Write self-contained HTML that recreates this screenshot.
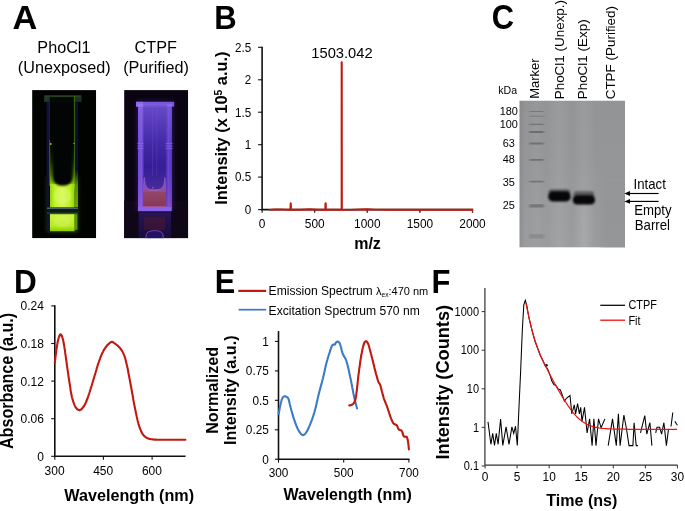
<!DOCTYPE html><html><head><meta charset="utf-8"><title>Figure</title>
<style>html,body{margin:0;padding:0;background:#fff}svg{display:block;will-change:transform}text{font-family:"Liberation Sans",Arial,sans-serif;fill:#000}.b{font-weight:bold;fill:#000}.pl{font-weight:bold;font-size:33px;fill:#000}.ax{stroke:#111;stroke-width:1.6;fill:none}.tk{stroke:#111;stroke-width:1.1;fill:none}</style></head><body>
<svg width="685" height="511" viewBox="0 0 685 511">
<defs>
<filter color-interpolation-filters="sRGB" id="bl1" x="-5%" y="-5%" width="110%" height="110%"><feGaussianBlur color-interpolation-filters="sRGB" stdDeviation="0.55"/></filter>
<filter color-interpolation-filters="sRGB" id="bl2" x="-10%" y="-10%" width="120%" height="120%"><feGaussianBlur color-interpolation-filters="sRGB" stdDeviation="1.1"/></filter>
<filter color-interpolation-filters="sRGB" id="bl3" x="-20%" y="-20%" width="140%" height="140%"><feGaussianBlur color-interpolation-filters="sRGB" stdDeviation="2.2"/></filter>
<filter color-interpolation-filters="sRGB" id="blb" x="-20%" y="-40%" width="140%" height="180%"><feGaussianBlur color-interpolation-filters="sRGB" stdDeviation="1.0 0.9"/></filter>
<filter color-interpolation-filters="sRGB" id="blm" x="-20%" y="-60%" width="140%" height="220%"><feGaussianBlur color-interpolation-filters="sRGB" stdDeviation="0.9 0.55"/></filter>
<clipPath id="cpA"><rect x="32.1" y="90.1" width="64.1" height="148.2"/></clipPath>
<clipPath id="cpB"><rect x="124.1" y="90.1" width="64.1" height="148.2"/></clipPath>
<clipPath id="cpG"><rect x="519.3" y="100.5" width="105.7" height="147.1"/></clipPath>
<linearGradient id="gGreen" x1="0" x2="1" y1="0" y2="0">
 <stop offset="0" stop-color="#9ad800"/><stop offset="0.2" stop-color="#c2f22c"/><stop offset="0.5" stop-color="#d4f84e"/><stop offset="0.8" stop-color="#bef026"/><stop offset="1" stop-color="#94d400"/>
</linearGradient>
<linearGradient id="gGreenUp" x1="0" x2="0" y1="0" y2="1">
 <stop offset="0" stop-color="#4a8a00" stop-opacity="0"/><stop offset="0.35" stop-color="#5a9a00" stop-opacity="0.22"/><stop offset="0.7" stop-color="#74b400" stop-opacity="0.6"/><stop offset="1" stop-color="#a4e010" stop-opacity="1"/>
</linearGradient>
<linearGradient id="gGreenRef" x1="0" x2="0" y1="0" y2="1">
 <stop offset="0" stop-color="#ccf642"/><stop offset="0.7" stop-color="#b4ea20"/><stop offset="1" stop-color="#90cc00"/>
</linearGradient>
<linearGradient id="gGreenSide" x1="0" x2="0" y1="0" y2="1"><stop offset="0" stop-color="#5a9a00" stop-opacity="0"/><stop offset="0.4" stop-color="#5a9a00" stop-opacity="0.9"/><stop offset="1" stop-color="#6aa800"/></linearGradient>
<linearGradient id="gUside" x1="0" x2="0" y1="0" y2="1"><stop offset="0" stop-color="#5a3cc0"/><stop offset="0.6" stop-color="#8050c0"/><stop offset="1" stop-color="#9a4c80"/></linearGradient>
<linearGradient id="gPurTop" x1="0" x2="0" y1="0" y2="1"><stop offset="0" stop-color="#a88cf8" stop-opacity="0.32"/><stop offset="0.35" stop-color="#a88cf8" stop-opacity="0.08"/><stop offset="0.6" stop-color="#c070d0" stop-opacity="0"/><stop offset="0.85" stop-color="#d070c8" stop-opacity="0.16"/><stop offset="1" stop-color="#e078c0" stop-opacity="0.26"/></linearGradient>
<linearGradient id="gUin" x1="0" x2="0" y1="0" y2="1"><stop offset="0" stop-color="#3a2298"/><stop offset="1" stop-color="#4a2c9c"/></linearGradient>
<linearGradient id="gPurIn" x1="0" x2="0" y1="0" y2="1"><stop offset="0" stop-color="#472cb0"/><stop offset="0.5" stop-color="#3a229e"/><stop offset="1" stop-color="#2e1a8c"/></linearGradient>
<linearGradient id="gRedLiq" x1="0" x2="0" y1="0" y2="1"><stop offset="0" stop-color="#9a4a6c"/><stop offset="1" stop-color="#843a58"/></linearGradient>
<linearGradient id="gPurBody" x1="0" x2="1" y1="0" y2="0">
 <stop offset="0" stop-color="#6a48d6"/><stop offset="0.1" stop-color="#7854e0"/><stop offset="0.2" stop-color="#4228a8"/><stop offset="0.5" stop-color="#36209a"/><stop offset="0.8" stop-color="#3e26a4"/><stop offset="0.9" stop-color="#6642d0"/><stop offset="1" stop-color="#5030bc"/>
</linearGradient>
<linearGradient id="gPurRef" x1="0" x2="0" y1="0" y2="1">
 <stop offset="0" stop-color="#4a28b0"/><stop offset="1" stop-color="#2a1470"/>
</linearGradient>
<linearGradient id="gLane" x1="0" x2="1" y1="0" y2="0">
 <stop offset="0" stop-color="#fff" stop-opacity="0"/><stop offset="0.5" stop-color="#fff" stop-opacity="0.07"/><stop offset="1" stop-color="#fff" stop-opacity="0"/>
</linearGradient>
<linearGradient id="gGelL" x1="0" x2="1" y1="0" y2="0"><stop offset="0" stop-color="#000" stop-opacity="0.08"/><stop offset="1" stop-color="#000" stop-opacity="0"/></linearGradient>
<linearGradient id="gGelR" x1="0" x2="0" y1="0" y2="1"><stop offset="0" stop-color="#939496" stop-opacity="0"/><stop offset="0.4" stop-color="#939496" stop-opacity="0"/><stop offset="0.7" stop-color="#949597" stop-opacity="1"/><stop offset="1" stop-color="#959698" stop-opacity="1"/></linearGradient>
<linearGradient id="gGelRm" x1="0" x2="1" y1="0" y2="0"><stop offset="0" stop-color="#fff" stop-opacity="0"/><stop offset="0.35" stop-color="#fff" stop-opacity="1"/><stop offset="1" stop-color="#fff" stop-opacity="1"/></linearGradient>
<mask id="mGelR"><rect x="596" y="100" width="30" height="148" fill="url(#gGelRm)"/></mask>
<linearGradient id="gGelV" x1="0" x2="0" y1="0" y2="1">
 <stop offset="0" stop-color="#939496"/><stop offset="0.4" stop-color="#959698"/><stop offset="0.7" stop-color="#999a9c"/><stop offset="1" stop-color="#9b9c9e"/>
</linearGradient>
</defs>
<rect width="685" height="511" fill="#fff"/>
<text class="pl" transform="translate(12.5 29.0) scale(1.04 1.022)">A</text>
<text class="pl" transform="translate(214.15 28.7) scale(0.94 1.025)">B</text>
<text class="pl" transform="translate(491.85 28.6) scale(0.934 1.04)">C</text>
<text class="pl" transform="translate(13.95 293) scale(0.955 1.03)">D</text>
<text class="pl" transform="translate(214.65 292.6) scale(0.932 1.032)">E</text>
<text class="pl" transform="translate(431.45 292.6) scale(0.9375 1.032)">F</text>
<text font-size="16.2px" text-anchor="middle" transform="translate(63.9 52.6) scale(1.0 1.03)">PhoCl1</text>
<text font-size="16.2px" text-anchor="middle" transform="translate(64.2 72.8) scale(1.0 1.03)">(Unexposed)</text>
<text font-size="16.2px" text-anchor="middle" transform="translate(155.7 52.6) scale(1.0 1.03)">CTPF</text>
<text font-size="16.2px" text-anchor="middle" transform="translate(156 72.8) scale(1.0 1.03)">(Purified)</text>

<g clip-path="url(#cpA)">
 <rect x="32.1" y="90.1" width="64.1" height="148.2" fill="#010301"/>
 <rect x="47" y="176" width="31" height="56" fill="#7ad000" opacity="0.32" filter="url(#bl3)"/>
 <g filter="url(#bl1)">
  <rect x="46.6" y="101" width="31.6" height="108" fill="#05060f"/>
  <rect x="46.6" y="101" width="3" height="130" fill="#101038"/>
  <rect x="74.8" y="101" width="3.4" height="108" fill="#0e0e34"/>
  <rect x="49.8" y="101" width="24.8" height="92" fill="#020503"/>
  <rect x="44.2" y="95.6" width="37.2" height="6.2" fill="#14261a"/><rect x="44.2" y="96.4" width="4.6" height="5.4" fill="#22382a"/><rect x="75.2" y="96.4" width="6.2" height="5.4" fill="#1c3024"/>
  <rect x="49.6" y="97.2" width="24.8" height="4.6" fill="#030805"/>
  <path d="M44.4 96 H81.2" stroke="#4a7a34" stroke-width="0.8" opacity="0.8"/>
  <path d="M49.5 96 V140" stroke="#1e3c0c" stroke-width="0.8" opacity="0.8"/>
  <path d="M49.7 140 V186" stroke="#447c10" stroke-width="0.9"/>
  <path d="M74.4 96 V190" stroke="#3e800c" stroke-width="0.9"/>
  <circle cx="50.8" cy="144" r="0.9" fill="#8fe000"/><circle cx="73.9" cy="143.4" r="0.7" fill="#8fe000"/><circle cx="54.8" cy="160.8" r="0.7" fill="#5c9800"/>
  <rect x="50" y="146" width="24.6" height="41" fill="url(#gGreenUp)"/>
  <rect x="74.6" y="170" width="3.4" height="37" fill="url(#gGreenSide)"/>
  <rect x="50" y="184" width="24.6" height="23.4" fill="url(#gGreen)"/>
 </g>
 <path d="M52.9 110 V176.5 Q52.9 185.8 62.7 185.8 Q72.5 185.8 72.5 176.5 V110 Z" fill="#020503" filter="url(#bl2)"/>
 <ellipse cx="62.4" cy="196" rx="9" ry="8" fill="#e6fc8a" opacity="0.35" filter="url(#bl2)"/>
 <g filter="url(#bl1)">
  <path d="M47 208.2 H78" stroke="#5c7a7c" stroke-width="1.2"/>
  <rect x="47" y="209.2" width="31" height="3.6" fill="#0a1a14"/>
  <path d="M47 213.2 H78" stroke="#34505c" stroke-width="0.9"/>
  <rect x="50" y="214.2" width="24.6" height="17" fill="url(#gGreenRef)"/>
  <rect x="74.6" y="214.2" width="2.8" height="15.6" fill="#5a9a00"/>
 </g>
 <ellipse cx="62.4" cy="221.5" rx="9" ry="5.5" fill="#e6fc8a" opacity="0.3" filter="url(#bl2)"/>
</g>
<g clip-path="url(#cpB)">
 <rect x="124.1" y="90.1" width="64.1" height="148.2" fill="#0a0412"/>
 <rect x="124.1" y="200.6" width="64.1" height="37.7" fill="#0f0618"/>
 <path d="M124 200.6 H188.4" stroke="#341248" stroke-width="1.1" filter="url(#bl1)"/>
 <rect x="137" y="101" width="36" height="110" fill="#5a34c8" opacity="0.38" filter="url(#bl3)"/>
 <g filter="url(#bl1)">
  <rect x="138" y="104" width="34" height="106" fill="url(#gPurBody)"/>
  <rect x="143.6" y="107" width="22.2" height="82" fill="url(#gPurIn)"/>
  <path d="M152.6 108 V186 M156.8 110 V180" stroke="#5a3cc0" stroke-width="0.9" opacity="0.55"/>
  <rect x="136" y="101.8" width="38.2" height="4.8" fill="#7a58e2"/>
  <rect x="136" y="101.8" width="7" height="4.8" fill="#8e6cee"/>
  <rect x="143.4" y="104.4" width="23.6" height="2.8" fill="#5a3ac4"/>
  <path d="M137.2 143.4 H143.5 M137.2 146 H143.5 M137.2 148.4 H143.5 M165.6 143.4 H172.6 M165.6 146 H172.6 M165.6 148.4 H172.6" stroke="#8a64e6" stroke-width="0.9" opacity="0.8"/>
  <rect x="138" y="104" width="34" height="103" fill="url(#gPurTop)"/>
  <rect x="143" y="188" width="22.8" height="18.6" fill="url(#gRedLiq)"/>
 </g>
 <g filter="url(#bl1)">
  <path d="M143.6 176 H165.8 V189 H143.6 Z" fill="url(#gUin)"/><path d="M143 178 V192 H166 V178 H164.6 V180 Q164.6 190.6 154.6 190.6 Q144.6 190.6 144.6 180 V178 Z" fill="url(#gUside)"/>
  <path d="M144.6 177 V180 Q144.6 190.6 154.6 190.6 Q164.6 190.6 164.6 180 V177" fill="none" stroke="#b878dc" stroke-width="1" opacity="0.5"/>
  <circle cx="152.8" cy="187.6" r="0.8" fill="#6a6cf0"/>
  <rect x="138" y="207" width="33.6" height="4.2" fill="#8a62ea"/>
  <path d="M143 206.6 H166" stroke="#b85c9c" stroke-width="0.9" opacity="0.8"/>
  <rect x="138.6" y="212.4" width="32.4" height="26" fill="url(#gPurRef)" opacity="0.42"/>
  <rect x="144" y="216.6" width="21" height="13.2" fill="#4a1830" opacity="0.6"/>
  <path d="M146 238.4 V236 Q146 230.6 154.6 230.6 Q163.2 230.6 163.2 236 V238.4" fill="#221266" stroke="#8048a8" stroke-width="0.9"/>
 </g>
 <path d="M176 202.4 H185" stroke="#6a30c0" stroke-width="1.2" filter="url(#bl1)" opacity="0.7"/>
</g>

<path class="ax" d="M262.1 46.8 V209.6 H473"/>
<path class="tk" d="M258.1 209.6 H262.1"/>
<text font-size="11.6px" text-anchor="end" transform="translate(251.2 213.9) scale(1.0 1.11)">0</text>
<path class="tk" d="M258.1 177.1 H262.1"/>
<text font-size="11.6px" text-anchor="end" transform="translate(251.2 181.4) scale(1.0 1.11)">0.5</text>
<path class="tk" d="M258.1 144.7 H262.1"/>
<text font-size="11.6px" text-anchor="end" transform="translate(251.2 149.0) scale(1.0 1.11)">1</text>
<path class="tk" d="M258.1 112.2 H262.1"/>
<text font-size="11.6px" text-anchor="end" transform="translate(251.2 116.5) scale(1.0 1.11)">1.5</text>
<path class="tk" d="M258.1 79.8 H262.1"/>
<text font-size="11.6px" text-anchor="end" transform="translate(251.2 84.1) scale(1.0 1.11)">2</text>
<path class="tk" d="M258.1 47.3 H262.1"/>
<text font-size="11.6px" text-anchor="end" transform="translate(251.2 51.6) scale(1.0 1.11)">2.5</text>
<path class="tk" d="M262.1 209.6 V212.79999999999998"/>
<text font-size="11.9px" text-anchor="middle" transform="translate(262.1 228.1) scale(1.0 1.05)">0</text>
<path class="tk" d="M314.7 209.6 V212.79999999999998"/>
<text font-size="11.9px" text-anchor="middle" transform="translate(314.7 228.1) scale(1.0 1.05)">500</text>
<path class="tk" d="M367.3 209.6 V212.79999999999998"/>
<text font-size="11.9px" text-anchor="middle" transform="translate(367.3 228.1) scale(1.0 1.05)">1000</text>
<path class="tk" d="M419.9 209.6 V212.79999999999998"/>
<text font-size="11.9px" text-anchor="middle" transform="translate(419.9 228.1) scale(1.0 1.05)">1500</text>
<path class="tk" d="M472.5 209.6 V212.79999999999998"/>
<text font-size="11.9px" text-anchor="middle" transform="translate(472.5 228.1) scale(1.0 1.05)">2000</text>
<text class="b" font-size="16px" text-anchor="middle" transform="translate(367.5 249.3) scale(1.0 1.04)">m/z</text>
<text class="b" font-size="16.4px" text-anchor="middle" transform="translate(227.4 128.1) rotate(-90) scale(1.0 1.03)">Intensity (x 10<tspan font-size="10.4px" dy="-5.5">5</tspan><tspan dy="5.5"> a.u.)</tspan></text>
<text font-size="14.7px" text-anchor="middle" transform="translate(342.0 58.2) scale(1.0 1.04)">1503.042</text>
<path d="M269.0 209.9 L275.0 209.5 L281.0 209.4 L286.0 209.8 L290.4 209.7 L290.6 204.0 L290.7 203.3 L290.9 204.0 L291.0 209.7 L300.0 209.8 L310.0 209.3 L318.0 209.8 L325.3 209.7 L325.4 203.8 L325.6 203.1 L325.8 203.8 L325.9 209.7 L335.0 209.8 L341.6 209.8 L341.6 62.2 L341.8 62.2 L341.9 209.9 L350.0 209.9 L360.0 209.5 L367.0 209.2 L375.0 209.6 L390.0 209.8 L473.3 209.8" fill="none" stroke="#c0190f" stroke-width="1.9" stroke-linejoin="round"/>
<path d="M367.3 209.6 V212.6" stroke="#c0190f" stroke-width="1.2"/>
<path d="M419.9 209.6 V212.6" stroke="#c0190f" stroke-width="1.2"/>
<path d="M472.5 209.6 V212.6" stroke="#c0190f" stroke-width="1.2"/>

<g clip-path="url(#cpG)">
 <rect x="519.3" y="100.5" width="105.7" height="147.1" fill="url(#gGelV)"/>
 <rect x="596" y="100.5" width="29" height="147.1" fill="url(#gGelR)" mask="url(#mGelR)"/>
 <rect x="519.3" y="100.5" width="6" height="147.1" fill="url(#gGelL)"/>
 <rect x="528.5" y="100" width="16" height="148" fill="url(#gLane)" opacity="0.5"/>
 <rect x="547" y="100" width="24.5" height="148" fill="url(#gLane)"/>
 <rect x="572" y="100" width="24" height="148" fill="url(#gLane)"/>
 <rect x="574" y="205" width="20" height="43" fill="url(#gLane)" opacity="0.9"/>
 <g filter="url(#blm)"><rect x="529.4" y="111.0" width="14.4" height="1.1" rx="0.7" fill="#5e5f61" opacity="0.55"/><rect x="529.4" y="115.7" width="14.4" height="1.1" rx="0.7" fill="#5e5f61" opacity="0.5"/><rect x="529.4" y="123.7" width="14.4" height="1.4" rx="0.7" fill="#5e5f61" opacity="0.62"/><rect x="529.4" y="130.9" width="14.4" height="2.2" rx="0.7" fill="#5e5f61" opacity="0.75"/><rect x="529.4" y="142.6" width="14.4" height="1.8" rx="0.7" fill="#5e5f61" opacity="0.68"/><rect x="529.4" y="158.9" width="14.4" height="1.8" rx="0.7" fill="#5e5f61" opacity="0.68"/><rect x="529.4" y="180.7" width="14.4" height="1.8" rx="0.7" fill="#5e5f61" opacity="0.62"/><rect x="529.4" y="204.2" width="14.4" height="3.4" rx="0.7" fill="#5e5f61" opacity="0.62"/><rect x="529.4" y="234.2" width="14.4" height="4.4" rx="0.7" fill="#5e5f61" opacity="0.28"/></g>
 <g filter="url(#blb)">
  <rect x="548.6" y="189.4" width="21.6" height="6" rx="3" fill="#3a3a3c" opacity="0.75"/>
  <rect x="548.2" y="191.6" width="22.4" height="9.8" rx="4.4" fill="#070708"/>
  <rect x="573.6" y="191.2" width="20.6" height="7" rx="3.2" fill="#4a4a4c" opacity="0.8"/>
  <rect x="572.8" y="195.2" width="22.2" height="9.3" rx="4.3" fill="#070708"/>
 </g>
</g>

<text font-size="10.6px" transform="translate(498.2 93.6) scale(1.0 1.04)">kDa</text>
<text font-size="10.9px" text-anchor="middle" transform="translate(508.8 115.0) scale(1.0 1.04)">180</text>
<text font-size="10.9px" text-anchor="middle" transform="translate(508.8 127.7) scale(1.0 1.04)">100</text>
<text font-size="10.9px" text-anchor="middle" transform="translate(508.8 146.8) scale(1.0 1.04)">63</text>
<text font-size="10.9px" text-anchor="middle" transform="translate(508.8 162.8) scale(1.0 1.04)">48</text>
<text font-size="10.9px" text-anchor="middle" transform="translate(508.8 186.2) scale(1.0 1.04)">35</text>
<text font-size="10.9px" text-anchor="middle" transform="translate(508.8 208.8) scale(1.0 1.04)">25</text>
<text font-size="13px" transform="translate(538.9 98.8) rotate(-90) scale(1.0 1.04)">Marker</text>
<text font-size="13.45px" transform="translate(564.2 99.3) rotate(-90)">PhoCl1 (Unexp.)</text>
<text font-size="13.45px" transform="translate(587.2 99.3) rotate(-90)">PhoCl1 (Exp)</text>
<text font-size="13.45px" transform="translate(614.9 99.3) rotate(-90)">CTPF (Purified)</text>
<text font-size="13.2px" transform="translate(633.6 189.2) scale(1.0 1.04)">Intact</text>
<text font-size="13.2px" transform="translate(634.2 214.9) scale(1.0 1.04)">Empty</text>
<text font-size="13.2px" transform="translate(634.8 230.1) scale(1.0 1.04)">Barrel</text>
<path d="M628 193.5 H658.6" stroke="#000" stroke-width="1.15"/>
<path d="M624.4 193.5 L630 191.05 L630 195.95 Z" fill="#000"/>
<path d="M628 201.4 H658.6" stroke="#000" stroke-width="1.15"/>
<path d="M624.4 201.4 L630 198.95000000000002 L630 203.85 Z" fill="#000"/>
<path class="ax" d="M54.8 305.3 V456.3 H185.6"/>
<path class="tk" d="M51.199999999999996 456.3 H54.8"/>
<text font-size="12.0px" text-anchor="end" transform="translate(43.9 460.7) scale(1.0 1.08)">0</text>
<path class="tk" d="M51.199999999999996 418.7 H54.8"/>
<text font-size="12.0px" text-anchor="end" transform="translate(43.9 423.1) scale(1.0 1.08)">0.06</text>
<path class="tk" d="M51.199999999999996 381.1 H54.8"/>
<text font-size="12.0px" text-anchor="end" transform="translate(43.9 385.5) scale(1.0 1.08)">0.12</text>
<path class="tk" d="M51.199999999999996 343.5 H54.8"/>
<text font-size="12.0px" text-anchor="end" transform="translate(43.9 347.9) scale(1.0 1.08)">0.18</text>
<path class="tk" d="M51.199999999999996 305.9 H54.8"/>
<text font-size="12.0px" text-anchor="end" transform="translate(43.9 310.3) scale(1.0 1.08)">0.24</text>
<path class="tk" d="M54.8 456.3 V459.7"/>
<text font-size="12.0px" text-anchor="middle" transform="translate(54.6 474.9) scale(1.0 1.08)">300</text>
<path class="tk" d="M103.4 456.3 V459.7"/>
<text font-size="12.0px" text-anchor="middle" transform="translate(103.2 474.9) scale(1.0 1.08)">450</text>
<path class="tk" d="M152.1 456.3 V459.7"/>
<text font-size="12.0px" text-anchor="middle" transform="translate(151.9 474.9) scale(1.0 1.08)">600</text>
<text class="b" font-size="16.2px" text-anchor="middle" transform="translate(129.2 501.2) scale(1.0 1.04)">Wavelength (nm)</text>
<text class="b" font-size="16.15px" text-anchor="middle" transform="translate(13.3 380.9) rotate(-90) scale(1.0 1.09)">Absorbance (a.u.)</text>
<path d="M54.8 362.6 L54.9 361.9 L55.0 361.0 L55.1 360.0 L55.3 358.8 L55.4 357.5 L55.6 356.2 L55.8 354.8 L55.9 353.4 L56.1 352.1 L56.3 350.8 L56.4 349.6 L56.6 348.5 L56.8 347.5 L56.9 346.5 L57.1 345.6 L57.2 344.7 L57.4 343.8 L57.5 342.9 L57.7 342.1 L57.8 341.3 L58.0 340.6 L58.2 339.9 L58.3 339.2 L58.5 338.6 L58.7 338.0 L58.8 337.5 L59.0 337.0 L59.2 336.5 L59.4 336.0 L59.5 335.6 L59.7 335.3 L59.9 335.0 L60.1 334.7 L60.2 334.5 L60.4 334.4 L60.6 334.4 L60.8 334.4 L61.0 334.5 L61.1 334.7 L61.3 335.0 L61.5 335.3 L61.7 335.6 L61.8 336.0 L62.0 336.5 L62.2 337.0 L62.4 337.5 L62.5 338.0 L62.7 338.6 L62.9 339.2 L63.0 339.8 L63.2 340.5 L63.3 341.2 L63.5 342.0 L63.6 342.8 L63.8 343.6 L63.9 344.5 L64.1 345.4 L64.3 346.4 L64.4 347.4 L64.6 348.5 L64.8 349.6 L65.0 350.9 L65.1 352.2 L65.3 353.5 L65.5 354.9 L65.7 356.3 L65.9 357.8 L66.1 359.3 L66.3 360.7 L66.5 362.2 L66.7 363.6 L66.9 365.0 L67.1 366.4 L67.3 367.8 L67.5 369.2 L67.7 370.6 L67.9 372.0 L68.1 373.4 L68.3 374.7 L68.5 376.1 L68.7 377.5 L68.9 378.8 L69.1 380.1 L69.3 381.4 L69.5 382.7 L69.7 384.0 L69.9 385.2 L70.1 386.5 L70.3 387.7 L70.5 389.0 L70.6 390.2 L70.8 391.3 L71.0 392.4 L71.2 393.5 L71.4 394.5 L71.6 395.5 L71.8 396.4 L72.0 397.3 L72.2 398.1 L72.4 398.8 L72.6 399.5 L72.8 400.2 L73.0 400.8 L73.2 401.5 L73.4 402.0 L73.6 402.6 L73.8 403.2 L74.0 403.7 L74.2 404.2 L74.4 404.7 L74.6 405.1 L74.7 405.6 L74.9 406.0 L75.1 406.3 L75.3 406.7 L75.5 407.0 L75.7 407.3 L75.9 407.6 L76.1 407.9 L76.3 408.2 L76.5 408.5 L76.8 408.7 L77.0 408.9 L77.3 409.2 L77.5 409.4 L77.8 409.6 L78.1 409.7 L78.3 409.8 L78.6 410.0 L78.9 410.0 L79.1 410.1 L79.4 410.1 L79.7 410.1 L79.9 410.0 L80.2 410.0 L80.4 409.8 L80.7 409.7 L80.9 409.6 L81.2 409.4 L81.4 409.2 L81.7 408.9 L81.9 408.7 L82.2 408.5 L82.4 408.2 L82.6 407.9 L82.9 407.6 L83.1 407.3 L83.4 407.0 L83.6 406.6 L83.9 406.3 L84.1 405.9 L84.3 405.5 L84.6 405.1 L84.8 404.6 L85.1 404.2 L85.3 403.7 L85.5 403.2 L85.8 402.7 L86.0 402.2 L86.2 401.6 L86.5 401.1 L86.7 400.5 L86.9 399.9 L87.2 399.3 L87.4 398.7 L87.6 398.0 L87.9 397.4 L88.1 396.7 L88.3 396.0 L88.6 395.3 L88.8 394.6 L89.1 393.8 L89.3 393.1 L89.5 392.3 L89.8 391.5 L90.0 390.7 L90.3 389.9 L90.6 389.0 L90.8 388.2 L91.1 387.3 L91.4 386.4 L91.7 385.5 L92.0 384.5 L92.3 383.5 L92.6 382.5 L92.9 381.5 L93.2 380.5 L93.5 379.5 L93.8 378.5 L94.1 377.5 L94.4 376.5 L94.7 375.5 L95.0 374.5 L95.3 373.5 L95.6 372.5 L95.9 371.5 L96.2 370.5 L96.5 369.5 L96.7 368.5 L97.0 367.5 L97.3 366.6 L97.6 365.6 L97.9 364.7 L98.2 363.8 L98.5 362.9 L98.8 362.1 L99.1 361.2 L99.4 360.4 L99.7 359.6 L100.0 358.8 L100.2 358.0 L100.5 357.2 L100.8 356.5 L101.1 355.8 L101.4 355.1 L101.7 354.4 L102.0 353.8 L102.3 353.1 L102.6 352.5 L102.9 352.0 L103.2 351.4 L103.4 350.9 L103.7 350.4 L104.0 349.9 L104.3 349.4 L104.6 348.9 L104.9 348.4 L105.2 348.0 L105.5 347.6 L105.8 347.1 L106.1 346.7 L106.4 346.4 L106.7 346.0 L107.0 345.6 L107.3 345.3 L107.6 344.9 L107.9 344.6 L108.2 344.3 L108.5 344.1 L108.8 343.8 L109.1 343.6 L109.3 343.3 L109.6 343.1 L109.9 342.9 L110.1 342.7 L110.3 342.5 L110.6 342.3 L110.8 342.2 L111.1 342.1 L111.3 342.0 L111.6 341.9 L111.8 341.9 L112.0 341.9 L112.3 341.9 L112.5 342.0 L112.7 342.1 L112.9 342.2 L113.2 342.3 L113.4 342.4 L113.6 342.6 L113.8 342.8 L114.1 342.9 L114.3 343.1 L114.6 343.3 L114.9 343.5 L115.2 343.7 L115.4 343.9 L115.7 344.1 L116.0 344.3 L116.4 344.6 L116.7 344.8 L117.0 345.1 L117.3 345.3 L117.6 345.6 L117.9 345.9 L118.2 346.2 L118.5 346.5 L118.8 346.8 L119.1 347.1 L119.4 347.4 L119.7 347.8 L120.0 348.1 L120.3 348.4 L120.6 348.8 L120.9 349.2 L121.1 349.6 L121.4 350.0 L121.7 350.4 L122.0 350.8 L122.2 351.3 L122.5 351.8 L122.8 352.2 L123.0 352.7 L123.3 353.2 L123.5 353.7 L123.8 354.3 L124.0 354.9 L124.2 355.4 L124.5 356.1 L124.7 356.7 L124.9 357.4 L125.1 358.1 L125.3 358.8 L125.5 359.5 L125.7 360.3 L125.9 361.1 L126.1 361.9 L126.3 362.7 L126.5 363.5 L126.7 364.4 L126.9 365.2 L127.1 366.1 L127.3 367.0 L127.5 367.9 L127.7 368.9 L127.9 369.8 L128.1 370.8 L128.2 371.8 L128.4 372.8 L128.6 373.8 L128.8 374.8 L129.0 375.8 L129.2 376.9 L129.4 377.9 L129.6 378.9 L129.8 380.0 L130.0 381.0 L130.2 382.1 L130.4 383.2 L130.6 384.3 L130.8 385.4 L131.0 386.5 L131.2 387.5 L131.4 388.6 L131.6 389.7 L131.8 390.8 L132.0 391.9 L132.2 393.0 L132.4 394.1 L132.6 395.1 L132.8 396.2 L133.0 397.3 L133.1 398.4 L133.3 399.5 L133.5 400.6 L133.7 401.6 L133.9 402.7 L134.1 403.7 L134.3 404.7 L134.5 405.8 L134.7 406.8 L134.9 407.8 L135.1 408.8 L135.3 409.8 L135.5 410.8 L135.7 411.8 L135.9 412.7 L136.1 413.7 L136.3 414.6 L136.5 415.5 L136.7 416.4 L136.9 417.2 L137.1 418.1 L137.3 418.9 L137.4 419.7 L137.6 420.5 L137.8 421.2 L138.0 422.0 L138.2 422.7 L138.4 423.5 L138.6 424.2 L138.8 424.9 L139.0 425.6 L139.2 426.3 L139.5 427.0 L139.7 427.7 L140.0 428.3 L140.2 429.0 L140.5 429.6 L140.7 430.2 L141.0 430.8 L141.2 431.4 L141.5 431.9 L141.7 432.4 L141.9 432.9 L142.2 433.3 L142.4 433.6 L142.6 434.0 L142.8 434.3 L143.1 434.6 L143.3 434.9 L143.5 435.2 L143.7 435.4 L144.0 435.7 L144.2 435.9 L144.5 436.2 L144.8 436.4 L145.0 436.7 L145.3 436.9 L145.6 437.1 L145.9 437.3 L146.2 437.5 L146.5 437.7 L146.8 437.9 L147.1 438.1 L147.5 438.2 L147.8 438.4 L148.2 438.5 L148.6 438.6 L149.0 438.8 L149.4 438.9 L149.8 439.0 L150.2 439.0 L150.6 439.1 L151.1 439.2 L151.5 439.3 L152.0 439.3 L152.4 439.4 L152.9 439.4 L153.4 439.5 L153.9 439.5 L154.4 439.6 L154.8 439.6 L155.3 439.6 L155.8 439.6 L156.3 439.7 L156.8 439.7 L157.3 439.7 L157.9 439.7 L158.6 439.7 L159.3 439.7 L160.0 439.7 L160.8 439.7 L161.7 439.7 L162.6 439.7 L163.5 439.7 L164.5 439.8 L165.6 439.8 L166.6 439.8 L167.7 439.8 L168.8 439.8 L169.9 439.8 L170.9 439.8 L172.0 439.8 L173.1 439.8 L174.3 439.8 L175.6 439.8 L176.9 439.8 L178.2 439.8 L179.4 439.8 L180.7 439.8 L181.9 439.8 L183.0 439.8 L183.9 439.8 L184.7 439.8 L185.4 439.8" fill="none" stroke="#c0190f" stroke-width="2.1" stroke-linejoin="round" stroke-linecap="round"/>
<path class="ax" d="M278.5 331 V459.2 H409.5"/>
<path class="tk" d="M274.9 459.2 H278.5"/>
<text font-size="11.8px" text-anchor="end" transform="translate(268.8 463.5) scale(1.0 1.06)">0</text>
<path class="tk" d="M274.9 429.8 H278.5"/>
<text font-size="11.8px" text-anchor="end" transform="translate(268.8 434.1) scale(1.0 1.06)">0.25</text>
<path class="tk" d="M274.9 400.3 H278.5"/>
<text font-size="11.8px" text-anchor="end" transform="translate(268.8 404.6) scale(1.0 1.06)">0.5</text>
<path class="tk" d="M274.9 370.9 H278.5"/>
<text font-size="11.8px" text-anchor="end" transform="translate(268.8 375.2) scale(1.0 1.06)">0.75</text>
<path class="tk" d="M274.9 341.4 H278.5"/>
<text font-size="11.8px" text-anchor="end" transform="translate(268.8 345.7) scale(1.0 1.06)">1</text>
<path class="tk" d="M278.5 459.2 V462.59999999999997"/>
<text font-size="11.8px" text-anchor="middle" transform="translate(278.5 477.3) scale(1.0 1.06)">300</text>
<path class="tk" d="M343.7 459.2 V462.59999999999997"/>
<text font-size="11.8px" text-anchor="middle" transform="translate(343.7 477.3) scale(1.0 1.06)">500</text>
<path class="tk" d="M408.9 459.2 V462.59999999999997"/>
<text font-size="11.8px" text-anchor="middle" transform="translate(408.9 477.3) scale(1.0 1.06)">700</text>
<text class="b" font-size="16px" text-anchor="middle" transform="translate(347.6 499.6) scale(1.0 1.04)">Wavelength (nm)</text>
<text class="b" font-size="16.15px" text-anchor="middle" transform="translate(218 390.3) rotate(-90) scale(1.0 1.04)">Normalized</text>
<text class="b" font-size="16.15px" text-anchor="middle" transform="translate(235.7 390.2) rotate(-90) scale(1.0 1.04)">Intensity (a.u.)</text>
<path d="M238.3 290.9 H266.1" stroke="#c0190f" stroke-width="2.2"/>
<path d="M238.6 309.7 H266.1" stroke="#3b7ac9" stroke-width="1.7"/>
<text font-size="12.1px" transform="translate(268.6 294.6) scale(1.0 1.04)">Emission Spectrum <tspan font-size="11px">λ<tspan font-size="6.6px" dy="2.2">ex</tspan><tspan dy="-2.2">:470 nm</tspan></tspan></text>
<text font-size="12.1px" transform="translate(268.6 314.5) scale(1.0 1.04)">Excitation Spectrum 570 nm</text>
<path d="M278.7 414.0 L278.8 413.2 L279.0 412.1 L279.3 410.8 L279.5 409.3 L279.8 407.8 L280.1 406.4 L280.4 405.0 L280.6 403.9 L280.8 402.9 L281.1 402.1 L281.3 401.2 L281.5 400.5 L281.7 399.8 L281.9 399.2 L282.2 398.6 L282.4 398.1 L282.6 397.7 L282.9 397.3 L283.1 397.0 L283.4 396.8 L283.7 396.6 L283.9 396.5 L284.2 396.4 L284.5 396.3 L284.8 396.3 L285.2 396.3 L285.5 396.4 L285.9 396.5 L286.2 396.7 L286.6 396.9 L286.9 397.1 L287.2 397.3 L287.4 397.5 L287.6 397.6 L287.8 397.7 L288.0 397.9 L288.1 398.1 L288.3 398.5 L288.5 399.0 L288.7 399.6 L288.9 400.4 L289.2 401.4 L289.5 402.5 L289.7 403.7 L290.0 405.0 L290.4 406.4 L290.7 407.8 L291.1 409.2 L291.5 410.7 L292.0 412.4 L292.5 414.1 L293.0 415.9 L293.5 417.6 L294.1 419.3 L294.6 420.9 L295.1 422.4 L295.6 423.7 L296.1 425.0 L296.6 426.2 L297.1 427.3 L297.5 428.4 L298.0 429.4 L298.5 430.3 L299.0 431.1 L299.5 431.9 L300.0 432.6 L300.5 433.3 L301.0 433.9 L301.5 434.4 L302.0 434.8 L302.5 435.0 L303.0 435.1 L303.5 435.0 L304.0 434.8 L304.5 434.4 L305.0 433.9 L305.5 433.3 L306.0 432.6 L306.5 431.9 L307.0 431.1 L307.5 430.3 L308.0 429.3 L308.5 428.3 L308.9 427.2 L309.4 426.1 L309.9 424.9 L310.4 423.7 L310.9 422.4 L311.4 421.1 L311.9 419.8 L312.4 418.4 L312.9 417.0 L313.4 415.5 L313.9 413.9 L314.4 412.3 L314.9 410.5 L315.4 408.6 L315.9 406.5 L316.4 404.4 L316.9 402.1 L317.4 399.9 L317.9 397.6 L318.4 395.4 L318.9 393.4 L319.4 391.5 L319.9 389.7 L320.4 387.9 L320.8 386.2 L321.3 384.4 L321.8 382.7 L322.3 380.8 L322.8 378.9 L323.3 376.8 L323.8 374.6 L324.3 372.4 L324.8 370.1 L325.3 367.8 L325.8 365.6 L326.3 363.6 L326.8 361.7 L327.3 360.0 L327.7 358.4 L328.2 356.8 L328.6 355.4 L329.1 354.0 L329.5 352.8 L329.9 351.7 L330.2 350.6 L330.5 349.7 L330.8 348.8 L331.0 348.1 L331.3 347.5 L331.5 346.9 L331.7 346.4 L331.9 346.0 L332.1 345.6 L332.3 345.3 L332.5 345.1 L332.7 344.9 L332.8 344.8 L333.0 344.7 L333.2 344.7 L333.3 344.7 L333.5 344.6 L333.7 344.6 L333.9 344.5 L334.0 344.6 L334.2 344.6 L334.4 344.6 L334.6 344.6 L334.7 344.5 L334.9 344.4 L335.1 344.2 L335.2 344.0 L335.4 343.7 L335.6 343.3 L335.7 343.0 L335.9 342.7 L336.0 342.4 L336.2 342.2 L336.4 342.0 L336.5 341.9 L336.7 341.8 L336.8 341.7 L337.0 341.7 L337.2 341.6 L337.3 341.6 L337.5 341.6 L337.7 341.6 L337.8 341.6 L338.0 341.7 L338.2 341.8 L338.4 341.9 L338.6 342.0 L338.7 342.1 L338.9 342.3 L339.1 342.5 L339.2 342.6 L339.3 342.8 L339.5 343.0 L339.6 343.2 L339.8 343.5 L340.0 344.0 L340.2 344.6 L340.5 345.4 L340.7 346.5 L341.1 347.6 L341.4 348.9 L341.7 350.2 L342.0 351.4 L342.3 352.4 L342.6 353.3 L342.8 354.0 L343.0 354.5 L343.2 354.8 L343.4 355.2 L343.6 355.4 L343.8 355.7 L344.0 356.1 L344.2 356.5 L344.4 357.0 L344.7 357.4 L345.0 357.8 L345.2 358.2 L345.5 358.8 L345.8 359.4 L346.1 360.1 L346.4 361.0 L346.7 362.1 L347.1 363.3 L347.4 364.6 L347.8 366.0 L348.1 367.6 L348.5 369.1 L348.9 370.7 L349.2 372.2 L349.5 373.8 L349.9 375.4 L350.2 377.0 L350.6 378.7 L350.9 380.4 L351.2 382.1 L351.6 383.8 L351.9 385.5 L352.2 387.2 L352.6 388.9 L352.9 390.6 L353.2 392.3 L353.5 394.0 L353.9 395.6 L354.2 397.2 L354.5 398.7 L354.8 400.1 L355.2 401.6 L355.6 403.0 L356.0 404.4 L356.3 405.6 L356.6 406.7 L356.9 407.7 L357.1 408.4" fill="none" stroke="#3b7ac9" stroke-width="2.1" stroke-linejoin="round" stroke-linecap="round"/>
<path d="M349.2 405.5 L349.5 405.4 L349.8 405.4 L350.2 405.3 L350.7 405.2 L351.1 405.0 L351.6 404.9 L352.0 404.7 L352.4 404.5 L352.7 404.3 L353.0 404.0 L353.3 403.7 L353.5 403.4 L353.8 403.1 L354.0 402.7 L354.2 402.4 L354.4 402.0 L354.6 401.6 L354.8 401.3 L354.9 400.9 L355.1 400.5 L355.2 400.1 L355.3 399.6 L355.5 399.1 L355.6 398.5 L355.7 397.9 L355.8 397.4 L356.0 396.8 L356.1 396.2 L356.2 395.4 L356.3 394.5 L356.4 393.4 L356.6 392.1 L356.8 390.5 L357.0 388.6 L357.2 386.5 L357.5 384.3 L357.7 381.9 L358.0 379.5 L358.2 377.2 L358.5 374.9 L358.8 372.6 L359.1 370.2 L359.4 367.8 L359.8 365.3 L360.1 362.9 L360.4 360.6 L360.8 358.4 L361.1 356.4 L361.4 354.5 L361.8 352.8 L362.1 351.1 L362.4 349.6 L362.8 348.1 L363.1 346.8 L363.4 345.6 L363.7 344.6 L364.0 343.7 L364.3 343.0 L364.5 342.4 L364.8 342.0 L365.1 341.7 L365.4 341.4 L365.6 341.3 L365.9 341.2 L366.2 341.2 L366.5 341.4 L366.8 341.6 L367.1 341.9 L367.3 342.4 L367.6 342.9 L367.9 343.4 L368.2 344.0 L368.5 344.7 L368.7 345.4 L369.0 346.2 L369.2 347.1 L369.5 348.0 L369.7 349.0 L370.0 350.0 L370.3 351.1 L370.6 352.3 L370.9 353.5 L371.3 354.8 L371.6 356.2 L372.0 357.6 L372.3 359.0 L372.7 360.4 L373.0 361.7 L373.3 363.0 L373.7 364.4 L374.0 365.7 L374.3 367.0 L374.6 368.4 L374.9 369.7 L375.3 370.9 L375.6 372.2 L375.9 373.5 L376.3 374.8 L376.7 376.1 L377.0 377.4 L377.4 378.6 L377.7 379.7 L378.0 380.7 L378.3 381.5 L378.5 382.1 L378.7 382.5 L378.9 382.8 L379.1 383.0 L379.2 383.2 L379.4 383.3 L379.5 383.5 L379.7 383.8 L379.8 384.1 L380.0 384.4 L380.1 384.7 L380.2 385.0 L380.4 385.4 L380.5 385.9 L380.7 386.4 L380.9 387.2 L381.1 388.1 L381.4 389.2 L381.7 390.5 L382.0 391.8 L382.4 393.2 L382.7 394.6 L383.1 396.0 L383.5 397.3 L383.9 398.6 L384.4 400.0 L385.0 401.4 L385.5 402.7 L386.0 404.1 L386.6 405.4 L387.1 406.7 L387.5 407.9 L387.9 409.0 L388.2 410.1 L388.6 411.1 L388.9 412.1 L389.2 413.1 L389.5 414.0 L389.8 414.9 L390.1 415.8 L390.4 416.7 L390.8 417.7 L391.1 418.6 L391.5 419.5 L391.8 420.3 L392.2 421.1 L392.5 421.8 L392.8 422.4 L393.1 422.9 L393.3 423.2 L393.5 423.5 L393.7 423.6 L393.9 423.8 L394.1 423.9 L394.4 424.0 L394.6 424.2 L394.9 424.4 L395.1 424.5 L395.4 424.6 L395.7 424.7 L396.0 424.8 L396.3 424.9 L396.6 425.1 L396.8 425.3 L397.0 425.6 L397.2 426.0 L397.4 426.4 L397.6 426.9 L397.7 427.3 L397.9 427.8 L398.0 428.2 L398.2 428.5 L398.4 428.8 L398.5 429.0 L398.6 429.2 L398.8 429.3 L398.9 429.5 L399.1 429.6 L399.2 429.7 L399.4 429.8 L399.6 429.9 L399.8 430.0 L400.0 430.0 L400.2 430.0 L400.4 430.1 L400.6 430.1 L400.8 430.2 L401.0 430.3 L401.2 430.4 L401.3 430.6 L401.5 430.7 L401.6 430.9 L401.7 431.1 L401.9 431.4 L402.0 431.7 L402.2 432.0 L402.4 432.4 L402.6 433.0 L402.7 433.6 L402.9 434.2 L403.1 434.8 L403.3 435.4 L403.5 435.8 L403.7 436.2 L403.9 436.4 L404.1 436.6 L404.3 436.6 L404.5 436.6 L404.7 436.6 L404.9 436.6 L405.1 436.6 L405.3 436.6 L405.5 436.6 L405.7 436.7 L405.9 436.7 L406.1 436.7 L406.3 436.7 L406.5 436.8 L406.6 436.8 L406.8 437.0 L406.9 437.2 L407.1 437.5 L407.2 437.7 L407.3 438.1 L407.3 438.4 L407.4 438.8 L407.5 439.1 L407.6 439.5 L407.7 439.9 L407.8 440.2 L407.8 440.6 L407.9 441.0 L408.0 441.4 L408.0 441.9 L408.1 442.4 L408.2 443.0 L408.3 443.7 L408.4 444.5 L408.5 445.5 L408.6 446.4 L408.7 447.3 L408.8 448.2 L408.8 448.9 L408.9 449.4" fill="none" stroke="#c0190f" stroke-width="2.1" stroke-linejoin="round" stroke-linecap="round"/>
<path d="M484.9 288 V465.2 H677.6" stroke="#333" stroke-width="1.2" fill="none"/>
<path d="M481.7 466.0 H484.9" stroke="#333" stroke-width="1"/>
<text font-size="11.2px" text-anchor="end" transform="translate(479 470.2) scale(0.98 1.1)">0.1</text>
<path d="M481.7 427.4 H484.9" stroke="#333" stroke-width="1"/>
<text font-size="11.2px" text-anchor="end" transform="translate(479 431.6) scale(0.98 1.1)">1</text>
<path d="M481.7 388.8 H484.9" stroke="#333" stroke-width="1"/>
<text font-size="11.2px" text-anchor="end" transform="translate(479 393.0) scale(0.98 1.1)">10</text>
<path d="M481.7 350.2 H484.9" stroke="#333" stroke-width="1"/>
<text font-size="11.2px" text-anchor="end" transform="translate(479 354.4) scale(0.98 1.1)">100</text>
<path d="M481.7 311.6 H484.9" stroke="#333" stroke-width="1"/>
<text font-size="11.2px" text-anchor="end" transform="translate(479 315.8) scale(0.98 1.1)">1000</text>
<path d="M485.1 465.2 V468.4" stroke="#333" stroke-width="1"/>
<text font-size="11.9px" text-anchor="middle" transform="translate(485.1 480.9) scale(1.0 1.1)">0</text>
<path d="M517.1 465.2 V468.4" stroke="#333" stroke-width="1"/>
<text font-size="11.9px" text-anchor="middle" transform="translate(517.1 480.9) scale(1.0 1.1)">5</text>
<path d="M549.2 465.2 V468.4" stroke="#333" stroke-width="1"/>
<text font-size="11.9px" text-anchor="middle" transform="translate(549.2 480.9) scale(1.0 1.1)">10</text>
<path d="M581.2 465.2 V468.4" stroke="#333" stroke-width="1"/>
<text font-size="11.9px" text-anchor="middle" transform="translate(581.2 480.9) scale(1.0 1.1)">15</text>
<path d="M613.3 465.2 V468.4" stroke="#333" stroke-width="1"/>
<text font-size="11.9px" text-anchor="middle" transform="translate(613.3 480.9) scale(1.0 1.1)">20</text>
<path d="M645.4 465.2 V468.4" stroke="#333" stroke-width="1"/>
<text font-size="11.9px" text-anchor="middle" transform="translate(645.4 480.9) scale(1.0 1.1)">25</text>
<path d="M677.4 465.2 V468.4" stroke="#333" stroke-width="1"/>
<text font-size="11.9px" text-anchor="middle" transform="translate(677.4 480.9) scale(1.0 1.1)">30</text>
<text class="b" font-size="16.05px" text-anchor="middle" transform="translate(581.8 506) scale(1.0 1.04)">Time (ns)</text>
<text class="b" font-size="18.2px" text-anchor="middle" transform="translate(448.6 382.2) rotate(-90) scale(1.0 0.98)">Intensity (Counts)</text>
<path d="M600.3 305.3 H625.1" stroke="#000" stroke-width="1.25"/>
<path d="M600.3 320.2 H625.1" stroke="#f01010" stroke-width="1.3"/>
<text font-size="10.9px" transform="translate(628.4 309.4) scale(1.0 1.1)">CTPF</text>
<text font-size="10.9px" transform="translate(628.4 324.7) scale(1.0 1.1)">Fit</text>
<path d="M488.0 421.9 L490.9 444.3 L492.7 433.4 L494.5 445.4 L496.3 433.4 L498.1 444.3 L500.6 419.0 L502.8 445.4 L506.1 426.9 L509.0 444.3 L511.9 426.9 L513.7 433.4 L515.5 426.2 L517.3 445.4 L519.1 404.5 L520.6 371.9 L522.4 328.4 L523.8 304.9 L525.3 300.2 L526.6 304.6 L528.9 317.5 L532.5 332.4 L535.0 341.3 L537.9 349.0 L540.0 354.9 L543.0 361.0 L545.5 366.7 L546.4 367.1 L548.1 370.0 L550.2 375.6 L551.7 380.7 L554.0 384.8 L555.8 385.3 L557.8 388.8 L560.4 389.9 L562.4 395.5 L564.4 401.1 L566.7 398.0 L570.0 395.5 L571.8 413.8 L574.3 404.9 L575.6 413.8 L577.6 403.6 L579.4 413.8 L580.7 407.4 L582.0 421.4 L584.5 407.4 L587.1 432.9 L589.6 418.9 L592.1 445.6 L593.9 418.9 L596.0 445.6 L598.5 418.9 L601.1 427.8 L604.9 418.9" fill="none" stroke="#000" stroke-width="1.05" stroke-linejoin="miter"/>
<path d="M608.2 445.6 L612.5 418.9 L616.3 445.6 L618.4 413.8 L620.1 445.6 L623.9 415.0 L626.5 429.0 L629.0 445.6 L632.9 445.6 L634.1 422.7 L636.2 445.6 L637.9 445.6" fill="none" stroke="#000" stroke-width="1.05" stroke-linejoin="miter"/>
<path d="M640.5 432.9 L644.8 415.6 L646.8 434.1 L649.9 422.7 L651.9 445.6" fill="none" stroke="#000" stroke-width="1.05" stroke-linejoin="miter"/>
<path d="M655.7 432.9 L657.0 427.3 L659.6 427.3 L661.6 434.1 L663.9 422.7 L666.4 445.6 L668.5 429.0" fill="none" stroke="#000" stroke-width="1.05" stroke-linejoin="miter"/>
<path d="M671.0 426.5 L672.8 412.5" fill="none" stroke="#000" stroke-width="1.05" stroke-linejoin="miter"/>
<path d="M674.8 421.4 L677.4 425.2" fill="none" stroke="#000" stroke-width="1.05" stroke-linejoin="miter"/>
<circle cx="546.5" cy="365.3" r="1.3" fill="#111"/>
<path d="M525.9 302.8 L526.7 306.8 L527.5 310.7 L528.3 314.5 L529.1 318.1 L529.9 321.6 L530.7 325.0 L531.5 328.2 L532.3 331.3 L533.1 334.2 L533.9 336.9 L534.7 339.5 L535.5 342.0 L536.3 344.4 L537.1 346.6 L537.9 348.8 L538.7 350.8 L539.5 352.8 L540.3 354.7 L541.1 356.5 L541.9 358.3 L542.7 360.1 L543.5 361.8 L544.3 363.4 L545.1 365.1 L545.9 366.7 L546.7 368.3 L547.5 369.9 L548.3 371.4 L549.1 373.0 L549.9 374.5 L550.7 376.0 L551.5 377.5 L552.3 379.0 L553.1 380.5 L553.9 382.0 L554.7 383.5 L555.5 384.9 L556.3 386.3 L557.1 387.8 L557.9 389.2 L558.7 390.6 L559.5 392.0 L560.3 393.4 L561.1 394.7 L561.9 396.1 L562.7 397.4 L563.5 398.7 L564.3 400.0 L565.1 401.3 L565.9 402.5 L566.7 403.7 L567.5 404.9 L568.3 406.1 L569.1 407.2 L569.9 408.4 L570.7 409.5 L571.5 410.5 L572.3 411.5 L573.1 412.5 L573.9 413.5 L574.7 414.4 L575.5 415.3 L576.3 416.2 L577.1 417.0 L577.9 417.8 L578.7 418.5 L579.5 419.2 L580.3 419.9 L581.1 420.6 L581.9 421.2 L582.7 421.8 L583.5 422.3 L584.3 422.8 L585.1 423.3 L585.9 423.7 L586.7 424.2 L587.5 424.6 L588.3 424.9 L589.1 425.3 L589.9 425.6 L590.7 425.9 L591.5 426.2 L592.3 426.4 L593.1 426.7 L593.9 426.9 L594.7 427.1 L595.5 427.3 L596.3 427.4 L597.1 427.6 L597.9 427.7 L598.7 427.9 L599.5 428.0 L600.3 428.1 L601.1 428.2 L601.9 428.3 L602.7 428.4 L603.5 428.5 L604.3 428.5 L605.1 428.6 L605.9 428.7 L606.7 428.7 L607.5 428.8 L608.3 428.8 L609.1 428.9 L609.9 428.9 L610.7 428.9 L611.5 429.0 L612.3 429.0 L613.1 429.0 L613.9 429.0 L614.7 429.1 L615.5 429.1 L616.3 429.1 L617.1 429.1 L617.9 429.1 L618.7 429.2 L619.5 429.2 L620.3 429.2 L621.1 429.2 L621.9 429.2 L622.7 429.2 L623.5 429.2 L624.3 429.2 L625.1 429.2 L625.9 429.2 L626.7 429.2 L627.5 429.2 L628.3 429.3 L629.1 429.3 L629.9 429.3 L630.7 429.3 L631.5 429.3 L632.3 429.3 L633.1 429.3 L633.9 429.3 L634.7 429.3 L635.5 429.3 L636.3 429.3 L637.1 429.3 L637.9 429.3 L638.7 429.3 L639.5 429.3 L640.3 429.3 L641.1 429.3 L641.9 429.3 L642.7 429.3 L643.5 429.3 L644.3 429.3 L645.1 429.3 L645.9 429.3 L646.7 429.3 L647.5 429.3 L648.3 429.3 L649.1 429.3 L649.9 429.3 L650.7 429.3 L651.5 429.3 L652.3 429.3 L653.1 429.3 L653.9 429.3 L654.7 429.3 L655.5 429.3 L656.3 429.3 L657.1 429.3 L657.9 429.3 L658.7 429.3 L659.5 429.3 L660.3 429.3 L661.1 429.3 L661.9 429.3 L662.7 429.3 L663.5 429.3 L664.3 429.3 L665.1 429.3 L665.9 429.3 L666.7 429.3 L667.5 429.3 L668.3 429.3 L669.1 429.3 L669.9 429.3 L670.7 429.3 L671.5 429.3 L672.3 429.3 L673.1 429.3 L673.9 429.3 L674.7 429.3 L675.5 429.3 L676.3 429.3 L677.1 429.3" fill="none" stroke="#f01010" stroke-width="1.2" stroke-linejoin="round"/>
</svg></body></html>
